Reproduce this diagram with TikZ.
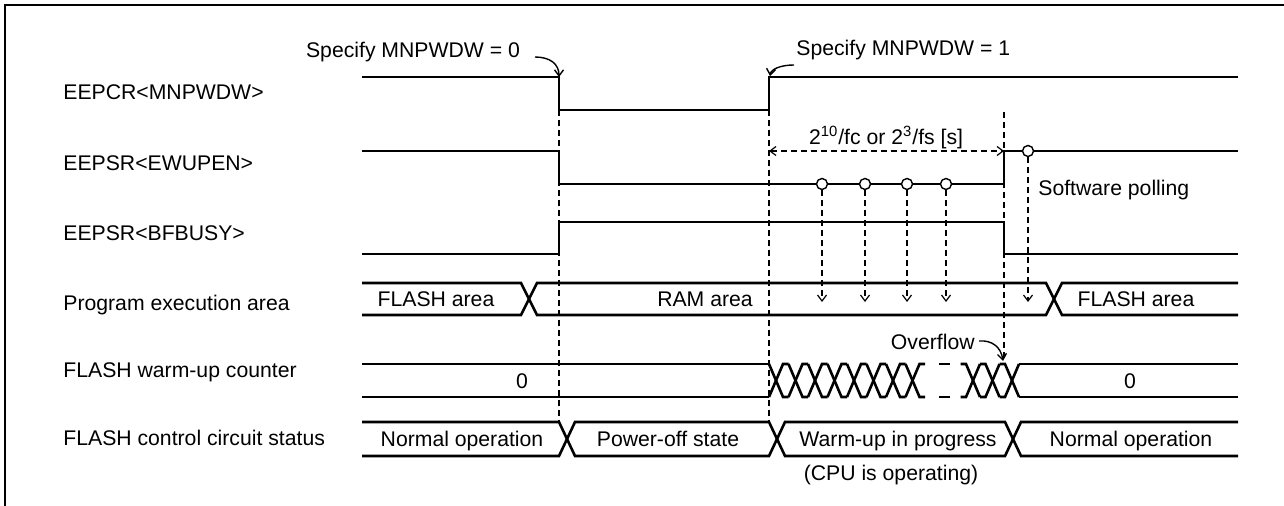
\documentclass[tikz,border=0pt]{standalone}
\usepackage{fontspec}
\setmainfont{Liberation Sans}
\usetikzlibrary{arrows,arrows.meta,positioning,calc}

\tikzset{
  sig/.style={line width=1.3pt},
  guide/.style={line width=0.6pt, dash pattern=on 3pt off 2pt},
  curvearr/.style={line width=0.7pt},
  txt/.style={inner sep=0pt, text height=7.6pt, text depth=0pt, font=\fontsize{10.6}{12.7}\selectfont},
  poll/.style={circle, draw, fill=white, line width=0.7pt, inner sep=0pt, minimum size=5.5pt},
}

\begin{document}
\begin{tikzpicture}[x=0.5pt,y=-0.5pt,>={Straight Barb[length=3pt,width=4.5pt]}]
  \useasboundingbox (0,0) rectangle (1284,506);
  % 枠
  \draw[line width=1.2pt] (1284,5) -- (5,5) -- (5,506);

  % 信号名
  \node[txt, anchor=west] (lmnp) at (63,92) {EEPCR<MNPWDW>};
  \node[txt, anchor=west] (lewu) at (63,163) {EEPSR<EWUPEN>};
  \node[txt, anchor=west] (lbfb) at (63,233) {EEPSR<BFBUSY>};
  \node[txt, anchor=west] (lprg) at (63,303) {Program execution area};
  \node[txt, anchor=west] (lcnt) at (63,370) {FLASH warm-up counter};
  \node[txt, anchor=west] (lsts) at (63,438) {FLASH control circuit status};

  % 単一信号
  \draw[sig] (362,77) -- (559,77) -- (559,110) -- (769,110) -- (769,77) -- (1238,77);
  \draw[sig] (362,151) -- (559,151) -- (559,184) -- (1004,184) -- (1004,151) -- (1238,151);
  \draw[sig] (362,254) -- (559,254) -- (559,222) -- (1004,222) -- (1004,254) -- (1238,254);

  % 補助線
  \draw[guide] (559,110) -- (559,422);
  \draw[guide] (769,110) -- (769,422);
  \draw[guide] (1004,112) -- (1004,360);

  % 設定の矢印
  \node[txt] (spec0) at (413,50) {Specify MNPWDW = 0};
  \coordinate (a0) at (535,57);
  \coordinate (e0) at (559,77);
  \draw[curvearr,->] (a0) .. controls (550,57) and (559,64) .. (e0);
  \node[txt, anchor=west] (spec1) at (796,48) {Specify MNPWDW = 1};
  \coordinate (a1) at (794,65);
  \coordinate (e1) at (770,76);
  \draw[curvearr,->] (a1) .. controls (781,65) and (771,69) .. (e1);

  % ウォームアップ時間
  \coordinate (w0) at (769,151);
  \coordinate (w1) at (1004,151);
  \draw[guide,<->] (w0) -- (w1);
  \node[txt] (wtime) at (886,137) {2\textsuperscript{10}/fc or 2\textsuperscript{3}/fs [s]};

  % プログラム実行領域
  \draw[sig] (362,283) -- (521,283) -- (537,315) -- (1046,315) -- (1062,283) -- (1238,283);
  \draw[sig] (362,315) -- (521,315) -- (537,283) -- (1046,283) -- (1062,315) -- (1238,315);
  \node[txt] (flash0) at (436,299) {FLASH area};
  \node[txt] (ram) at (705,299) {RAM area};
  \node[txt] (flash1) at (1136,299) {FLASH area};

  % ポーリング
  \foreach \i/\x in {1/822,2/865,3/907,4/946} {
    \node[poll] (p\i) at (\x,184) {};
    \coordinate (q\i) at (\x,302);
    \draw[guide,->] (p\i) -- (q\i);
  }
  \node[poll] (p5) at (1028,151) {};
  \coordinate (q5) at (1028,302);
  \draw[guide,->] (p5) -- (q5);
  \node[txt, anchor=west] (swp) at (1038,188) {Software polling};

  % ウォームアップカウンタ
  \draw[sig] (362,364) -- (769,364) (362,397) -- (769,397);
  \foreach \c in {776,795.5,815,834.5,854,873.5,893,912.5} {
    \draw[sig] (\c-7,364) -- (\c+7,397) -- (\c+12.5,397);
    \draw[sig] (\c-7,397) -- (\c+7,364) -- (\c+12.5,364);
  }
  \foreach \y in {364,397} {
    \draw[sig] (939,\y) -- (950,\y);
  }
  \foreach \c in {973,992.5,1012} {
    \draw[sig] (\c-12.5,364) -- (\c-7,364) -- (\c+7,397);
    \draw[sig] (\c-12.5,397) -- (\c-7,397) -- (\c+7,364);
  }
  \draw[sig] (1019,364) -- (1238,364) (1019,397) -- (1238,397);
  \node[txt] (cnt0) at (522,381) {0};
  \node[txt] (cnt1) at (1130,381) {0};
  \node[txt, anchor=east] (ovf) at (975,342) {Overflow};
  \coordinate (a2) at (979,341);
  \coordinate (e2) at (1003,361);
  \draw[curvearr,->] (a2) .. controls (992,340) and (1001,347) .. (e2);

  % 制御回路の状態
  \draw[sig] (362,422) -- (559,422) -- (575,456) -- (769,456) -- (785,422) -- (1005,422) -- (1021,456) -- (1238,456);
  \draw[sig] (362,456) -- (559,456) -- (575,422) -- (769,422) -- (785,456) -- (1005,456) -- (1021,422) -- (1238,422);
  \node[txt] (st0) at (462,439) {Normal operation};
  \node[txt] (st1) at (668,439) {Power-off state};
  \node[txt] (st2) at (898,439) {Warm-up in progress};
  \node[txt] (st3) at (1131,439) {Normal operation};
  \node[txt] (cpu) at (891,473) {(CPU is operating)};
\end{tikzpicture}
\end{document}
